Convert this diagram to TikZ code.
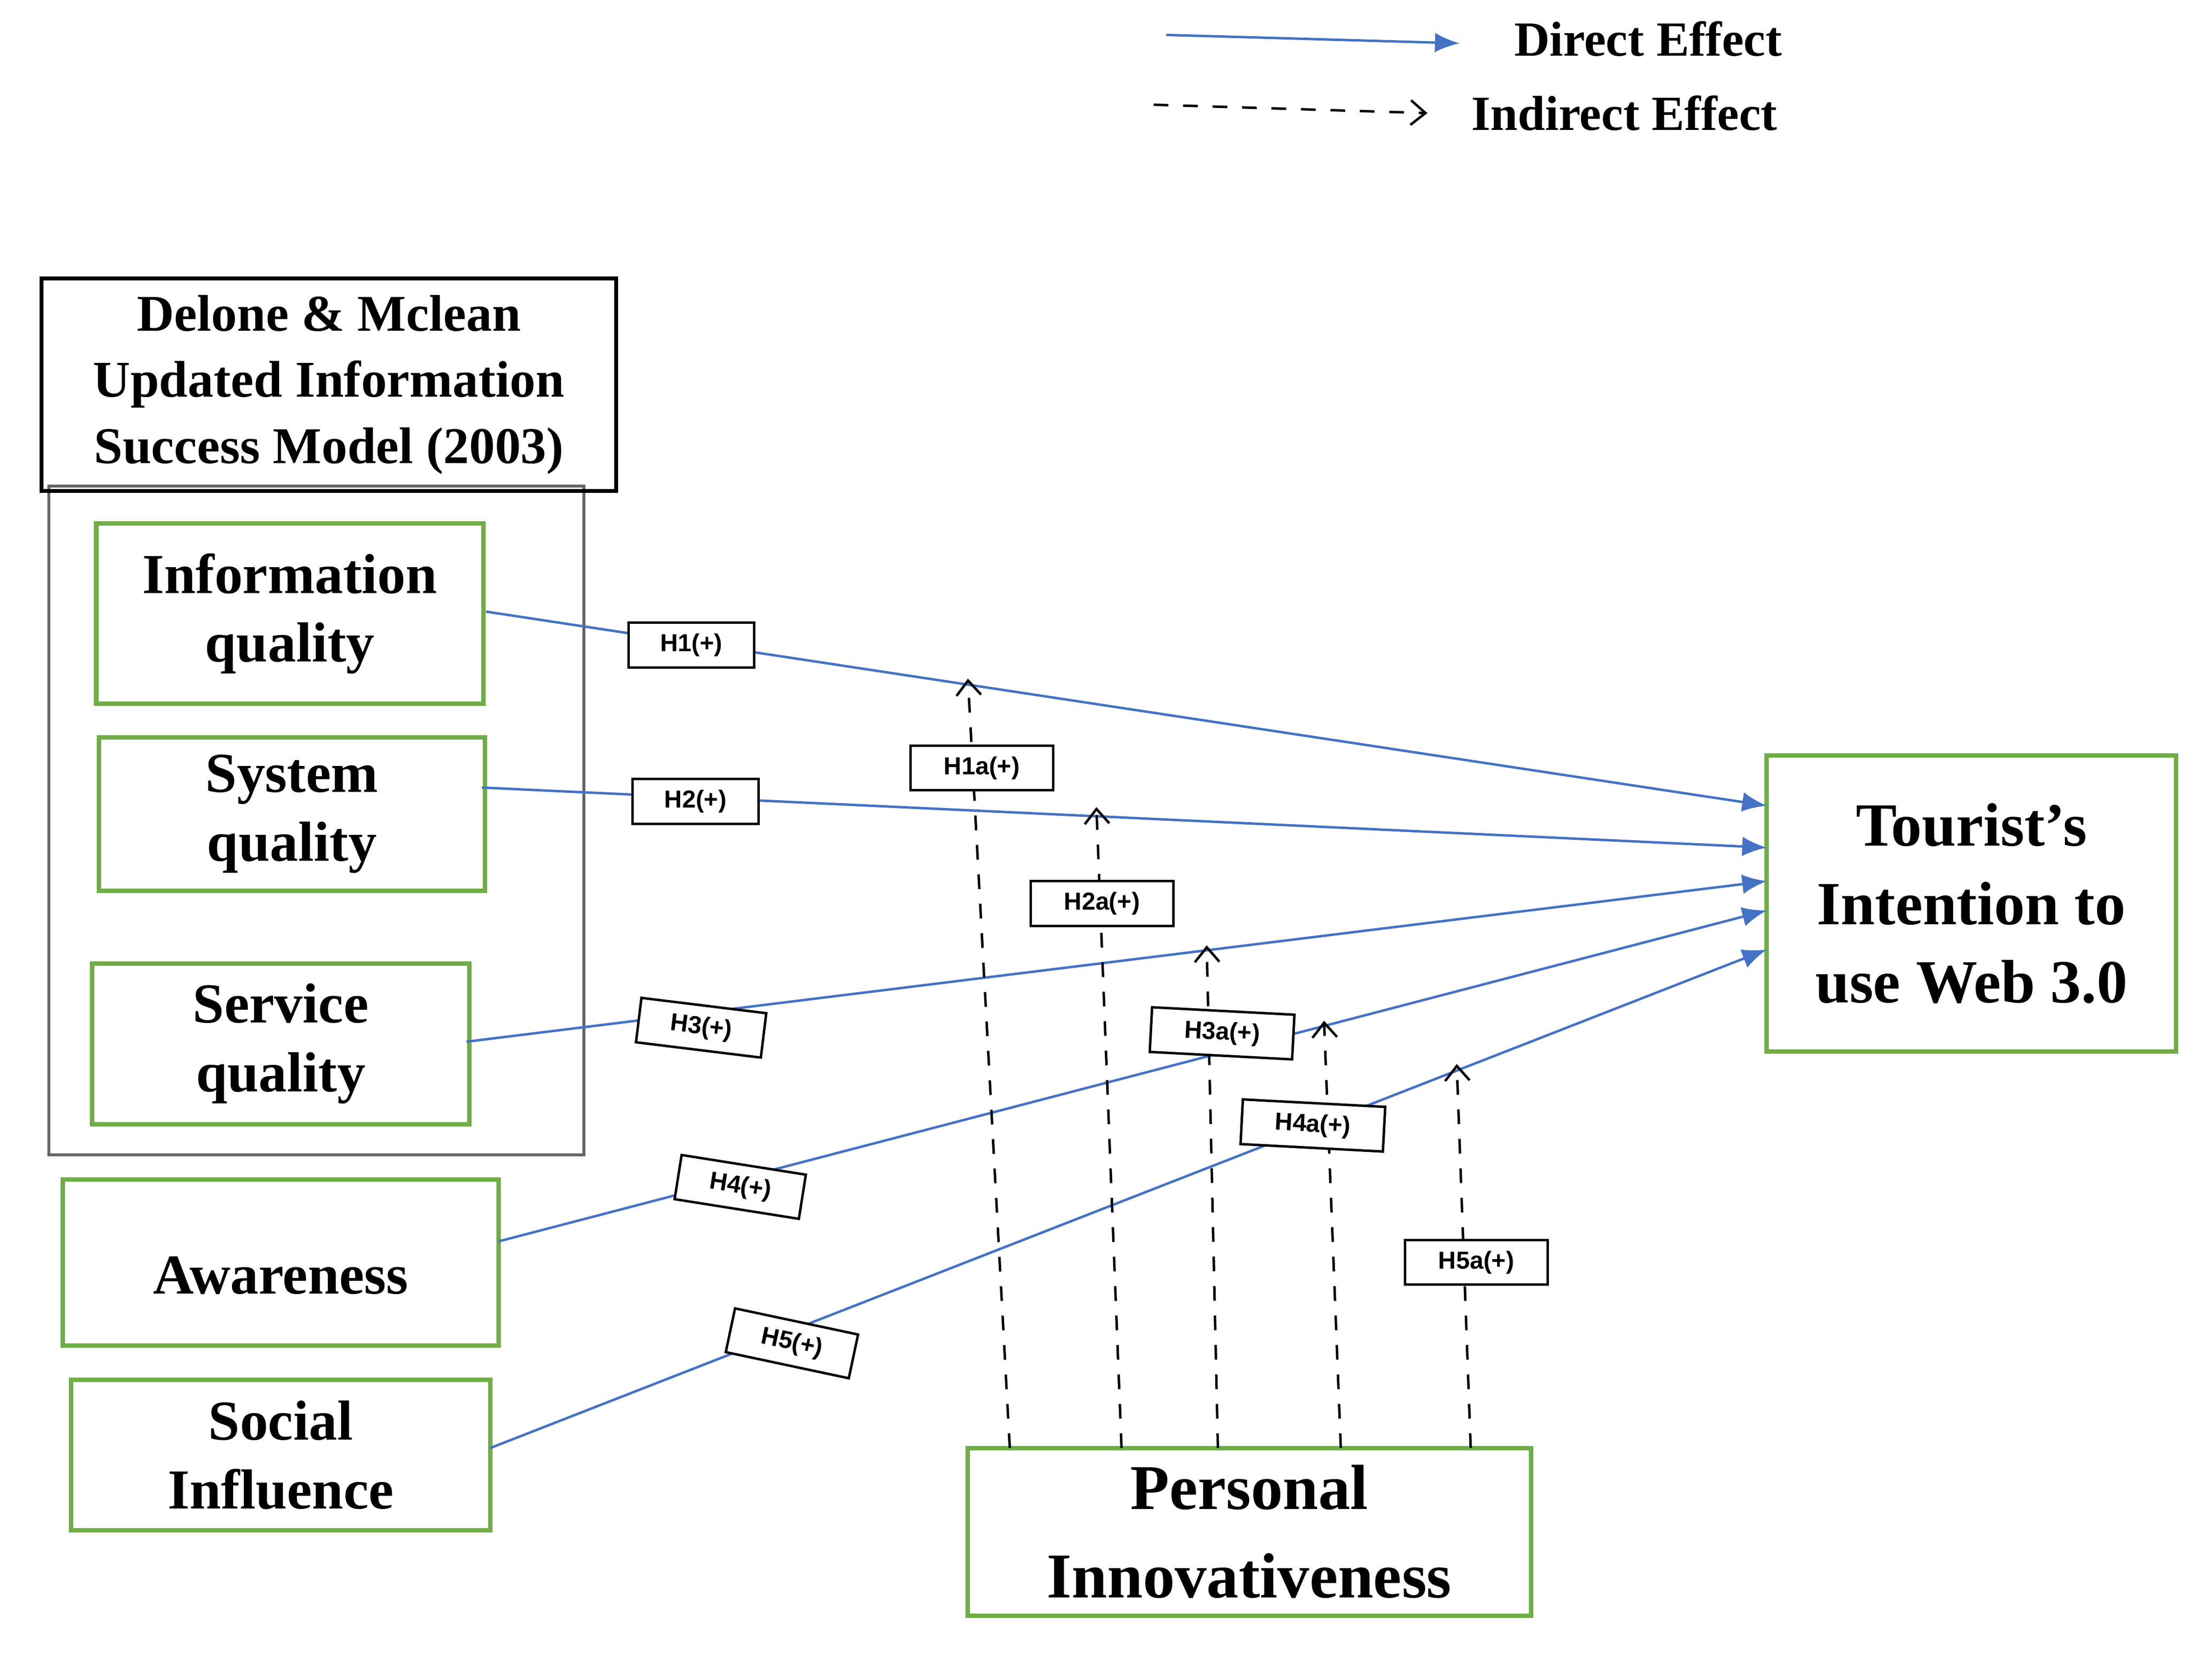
\documentclass[tikz,border=0pt]{standalone}
\usepackage{fontspec}
\setmainfont{Liberation Serif}
\newfontfamily\lab{Liberation Sans}
\usetikzlibrary{arrows.meta}
\definecolor{gbox}{RGB}{112,173,71}
\definecolor{bline}{RGB}{68,114,196}
\begin{document}
\begin{tikzpicture}[x=0.01cm,y=-0.01cm,
  gb/.style={draw=gbox,line width=0.9pt,font=\bfseries\fontsize{11.5}{14}\selectfont,align=center},
  de/.style={draw=bline,line width=0.5pt,-{Latex[length=5pt,width=4pt]}},
  ie/.style={draw=black,dashed,line width=0.5pt,-{Straight Barb[length=3pt,width=5pt]}},
  hl/.style={draw=black,fill=white,line width=0.5pt,font=\lab\bfseries\fontsize{5}{6}\selectfont,inner sep=1.5pt,minimum width=0.9cm,minimum height=0.32cm,sloped}]
\useasboundingbox (0,0) rectangle (1568,1203);
% legend
\coordinate (l1a) at (835,25); \coordinate (l1b) at (1045,31);
\coordinate (l2a) at (826,75); \coordinate (l2b) at (1022,81);
\draw[de] (l1a) -- (l1b);
\draw[ie] (l2a) -- (l2b);
\node[font=\bfseries\fontsize{10}{12}\selectfont] (t1) at (1180,28) {Direct Effect};
\node[font=\bfseries\fontsize{10}{12}\selectfont] (t2) at (1163,81) {Indirect Effect};
% DM box
\draw[gray!80!black,line width=0.6pt] (35,348) rectangle (418,827);
\node[draw,line width=0.8pt,minimum width=4.11cm,minimum height=1.45cm,align=center,font=\bfseries\fontsize{10.5}{13.5}\selectfont] (dm) at (235.5,275.5) {Delone \& Mclean\\Updated Information\\Success Model (2003)};
\node[gb,minimum width=2.77cm,minimum height=1.29cm] (iq) at (207.5,439.5) {Information\\quality};
\node[gb,minimum width=2.76cm,minimum height=1.10cm] (sq) at (209,583) {System\\quality};
\node[gb,minimum width=2.70cm,minimum height=1.15cm] (svq) at (201,747.5) {Service\\quality};
\node[gb,minimum width=3.12cm,minimum height=1.19cm,anchor=north,text height=0.45cm] (aw) at (201,843) {Awareness};
\node[gb,minimum width=3.00cm,minimum height=1.08cm] (si) at (201,1042) {Social\\Influence};
\node[gb,minimum width=2.93cm,minimum height=2.12cm,font=\bfseries\fontsize{12.5}{16}\selectfont] (tu) at (1411.5,647) {Tourist’s\\Intention to\\use Web 3.0};
\node[gb,minimum width=4.03cm,minimum height=1.20cm,font=\bfseries\fontsize{13}{18}\selectfont] (pi) at (894.5,1097) {Personal\\Innovativeness};
% endpoints
\coordinate (s1) at (348,438); \coordinate (e1) at (1265,577);
\coordinate (s2) at (345,564); \coordinate (e2) at (1265,607);
\coordinate (s3) at (334,746); \coordinate (e3) at (1265,631);
\coordinate (s4) at (357,889); \coordinate (e4) at (1265,652);
\coordinate (s5) at (351,1037); \coordinate (e5) at (1265,680);
\draw[de] (s1) -- (e1);
\draw[de] (s2) -- (e2);
\draw[de] (s3) -- (e3);
\draw[de] (s4) -- (e4);
\draw[de] (s5) -- (e5);
\node[hl] (h1) at (495,462) {H1(+)};
\node[hl] (h2) at (498,574) {H2(+)};
\node[hl,rotate=-7] (h3) at (502,736) {H3(+)};
\node[hl,rotate=-9] (h4) at (530,850) {H4(+)};
\node[hl,rotate=-12] (h5) at (567,962) {H5(+)};
% indirect
\coordinate (p1) at (723,1037); \coordinate (q1) at (693,486);
\coordinate (p2) at (803,1037); \coordinate (q2) at (785,578);
\coordinate (p3) at (872,1037); \coordinate (q3) at (864,677);
\coordinate (p4) at (960,1037); \coordinate (q4) at (948,731);
\coordinate (p5) at (1053,1037); \coordinate (q5) at (1043,762);
\foreach \i in {1,...,5} \draw[ie] (p\i) -- (q\i);
\node[hl,minimum width=1.02cm] (a1) at (703,550) {H1a(+)};
\node[hl,minimum width=1.02cm] (a2) at (789,647) {H2a(+)};
\node[hl,minimum width=1.02cm,rotate=-3] (a3) at (875,740) {H3a(+)};
\node[hl,minimum width=1.02cm,rotate=-3] (a4) at (940,806) {H4a(+)};
\node[hl,minimum width=1.02cm] (a5) at (1057,904) {H5a(+)};
\end{tikzpicture}
\end{document}
